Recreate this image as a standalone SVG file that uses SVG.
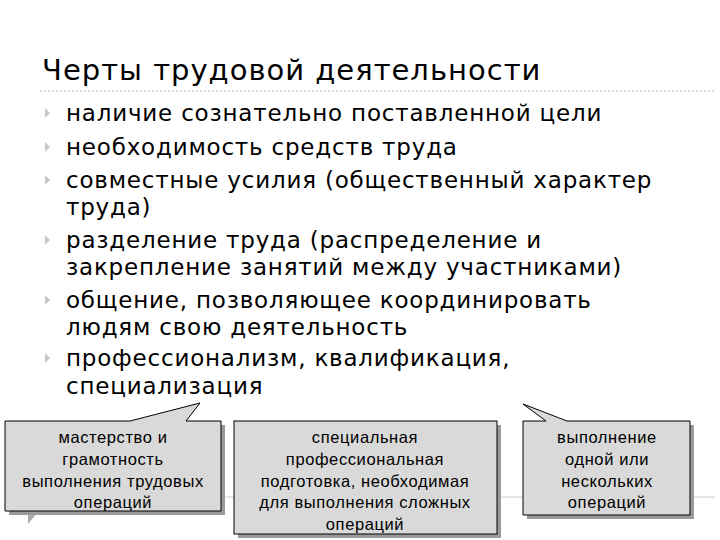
<svg xmlns="http://www.w3.org/2000/svg" width="720" height="540" viewBox="0 0 720 540">
<style>
.t{font-family:"DejaVu Sans",Verdana,sans-serif;font-size:23px;letter-spacing:0.8px;fill:#000}
.b{font-family:"Liberation Sans",Arial,sans-serif;font-size:16.5px;letter-spacing:0.6px;fill:#000;text-anchor:middle}
.box{fill:#d9d9d9;stroke:#000;stroke-width:1}
.sh{fill:#9a9a9a}
.bul{fill:#c8c8c8}
</style>
<defs><path id="bl" d="M0,-5 L5,0 L0,5 Z" class="bul"/></defs>
<rect width="720" height="540" fill="#fff"/>
<text x="42" y="80" font-family="DejaVu Sans,Verdana,sans-serif" font-size="29" letter-spacing="1">Черты трудовой деятельности</text>
<line x1="40" y1="91" x2="715" y2="91" stroke="#bbb" stroke-dasharray="2,2"/>
<line x1="220" y1="497" x2="525" y2="497" stroke="#ccc"/>
<line x1="690" y1="497" x2="715" y2="497" stroke="#ccc"/>
<g id="list">
<use href="#bl" x="45" y="113"/><use href="#bl" x="45" y="147"/><use href="#bl" x="45" y="180"/>
<use href="#bl" x="45" y="240"/><use href="#bl" x="45" y="300"/><use href="#bl" x="45" y="358"/>
<text class="t" x="66" y="121">наличие сознательно поставленной цели</text>
<text class="t" x="66" y="155">необходимость средств труда</text>
<text class="t" x="66" y="188">совместные усилия (общественный характер</text>
<text class="t" x="66" y="215">труда)</text>
<text class="t" x="66" y="248">разделение труда (распределение и</text>
<text class="t" x="66" y="275">закрепление занятий между участниками)</text>
<text class="t" x="66" y="308">общение, позволяющее координировать</text>
<text class="t" x="66" y="335">людям свою деятельность</text>
<text class="t" x="66" y="366">профессионализм, квалификация,</text>
<text class="t" x="66" y="394">специализация</text>
</g>
<polygon points="28,512 38,512 28,524" fill="#aaa"/>
<g id="c1">
<rect class="sh" x="9" y="425" width="216" height="90"/>
<path class="box" d="M5,421 L130,421 L200,403 L186,421 L221,421 L221,511 L5,511 Z"/>
<text class="b" x="113" y="443">мастерство и</text>
<text class="b" x="113" y="465">грамотность</text>
<text class="b" x="113" y="487">выполнения трудовых</text>
<text class="b" x="113" y="508">операций</text>
</g>
<g id="c2">
<rect class="sh" x="238" y="425" width="263" height="113"/>
<rect class="box" x="234" y="421" width="263" height="113"/>
<text class="b" x="365" y="443">специальная</text>
<text class="b" x="365" y="465">профессиональная</text>
<text class="b" x="365" y="487">подготовка, необходимая</text>
<text class="b" x="365" y="508">для выполнения сложных</text>
<text class="b" x="365" y="530">операций</text>
</g>
<g id="c3">
<rect class="sh" x="527" y="425" width="167" height="94"/>
<path class="box" d="M523,421 L546,421 L523,404 L567,421 L690,421 L690,515 L523,515 Z"/>
<text class="b" x="607" y="443">выполнение</text>
<text class="b" x="607" y="465">одной или</text>
<text class="b" x="607" y="487">нескольких</text>
<text class="b" x="607" y="508">операций</text>
</g>
</svg>
